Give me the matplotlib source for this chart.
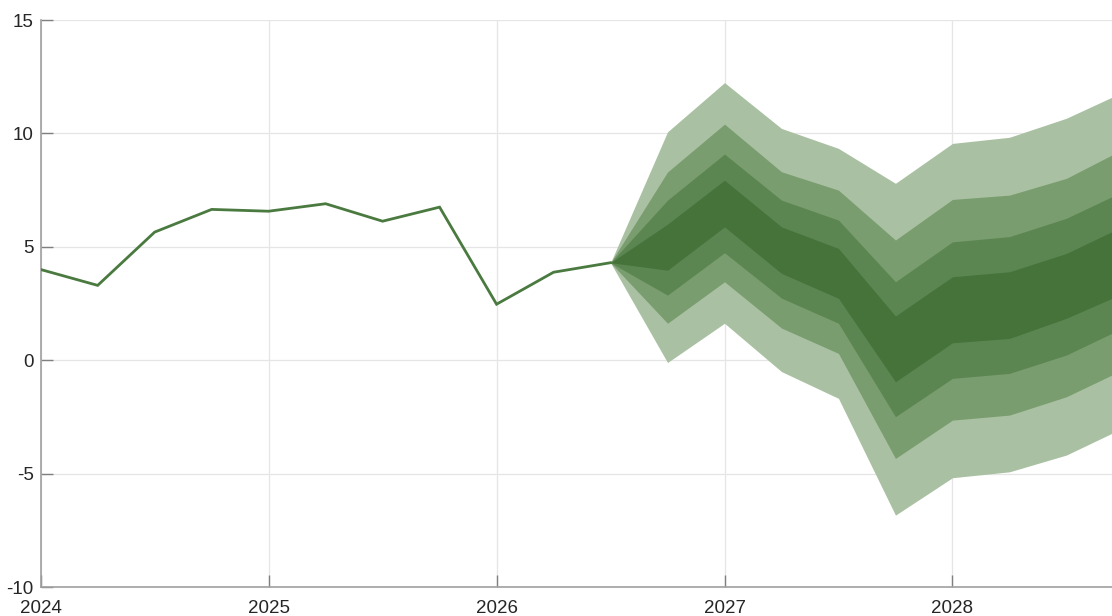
import matplotlib
matplotlib.use("Agg")
import matplotlib.pyplot as plt

plt.rcParams['font.family'] = ['Liberation Sans', 'DejaVu Sans']

# Historical series (quarterly)
hist_x = [2024.0, 2024.25, 2024.5, 2024.75, 2025.0, 2025.25, 2025.5, 2025.75, 2026.0, 2026.25, 2026.5]
hist_y = [4.0, 3.3, 5.65, 6.65, 6.57, 6.9, 6.13, 6.75, 2.47, 3.88, 4.3]

# Forecast fan (quarterly)
fc_x = [2026.5, 2026.75, 2027.0, 2027.25, 2027.5, 2027.75, 2028.0, 2028.25, 2028.5, 2028.75]
upper_outer   = [4.3, 10.07, 12.24, 10.22, 9.34, 7.80, 9.56, 9.83, 10.67, 11.83]
upper_mid     = [4.3, 8.30, 10.41, 8.31, 7.50, 5.30, 7.09, 7.28, 8.02, 9.31]
upper_inner   = [4.3, 7.06, 9.09, 7.06, 6.18, 3.46, 5.22, 5.45, 6.26, 7.45]
upper_core    = [4.3, 6.00, 7.94, 5.88, 4.93, 1.95, 3.68, 3.90, 4.71, 5.91]
lower_core    = [4.3, 3.97, 5.88, 3.83, 2.73, -0.95, 0.77, 0.96, 1.85, 2.95]
lower_inner   = [4.3, 2.87, 4.74, 2.74, 1.63, -2.49, -0.80, -0.58, 0.23, 1.43]
lower_mid     = [4.3, 1.63, 3.46, 1.42, 0.30, -4.33, -2.64, -2.42, -1.61, -0.41]
lower_outer   = [4.3, -0.10, 1.63, -0.50, -1.68, -6.83, -5.18, -4.92, -4.18, -2.98]

x_ticks = [2024, 2025, 2026, 2027, 2028]
x_labels = ['2024', '2025', '2026', '2027', '2028']
y_ticks = [-10, -5, 0, 5, 10, 15]
y_labels = ['-10', '-5', '0', '5', '10', '15']

fig = plt.figure(figsize=(11.12, 6.16), dpi=100)
ax = fig.add_axes([0.0366, 0.047, 0.9634, 0.9205])

band_colors = ['#a9c1a2', '#7a9d6f', '#5b8651', '#45733a']
bands = [(lower_outer, upper_outer), (lower_mid, upper_mid),
         (lower_inner, upper_inner), (lower_core, upper_core)]
for (lo, hi), c in zip(bands, band_colors):
    ax.fill_between(fc_x, lo, hi, color=c, linewidth=0, zorder=2)

ax.plot(hist_x, hist_y, color='#4a7a3f', linewidth=2.0, zorder=3, solid_joinstyle='miter')

ax.set_xlim(2024, 2028.70)
ax.set_ylim(-10, 15)
ax.set_xticks(x_ticks)
ax.set_xticklabels(x_labels)
ax.set_yticks(y_ticks)
ax.set_yticklabels(y_labels)

ax.grid(True, color='#e5e5e5', linewidth=0.9, zorder=0)
ax.set_axisbelow(True)
for s in ['top', 'right']:
    ax.spines[s].set_visible(False)
for s in ['left', 'bottom']:
    ax.spines[s].set_color('#a0a0a0')
    ax.spines[s].set_linewidth(1.2)

ax.tick_params(axis='both', direction='in', length=8.5, width=1.0, color='#808080',
               labelsize=13.5, labelcolor='#262626')
ax.tick_params(axis='x', pad=9)
ax.tick_params(axis='y', pad=5)

fig.savefig('out.png', dpi=100)
